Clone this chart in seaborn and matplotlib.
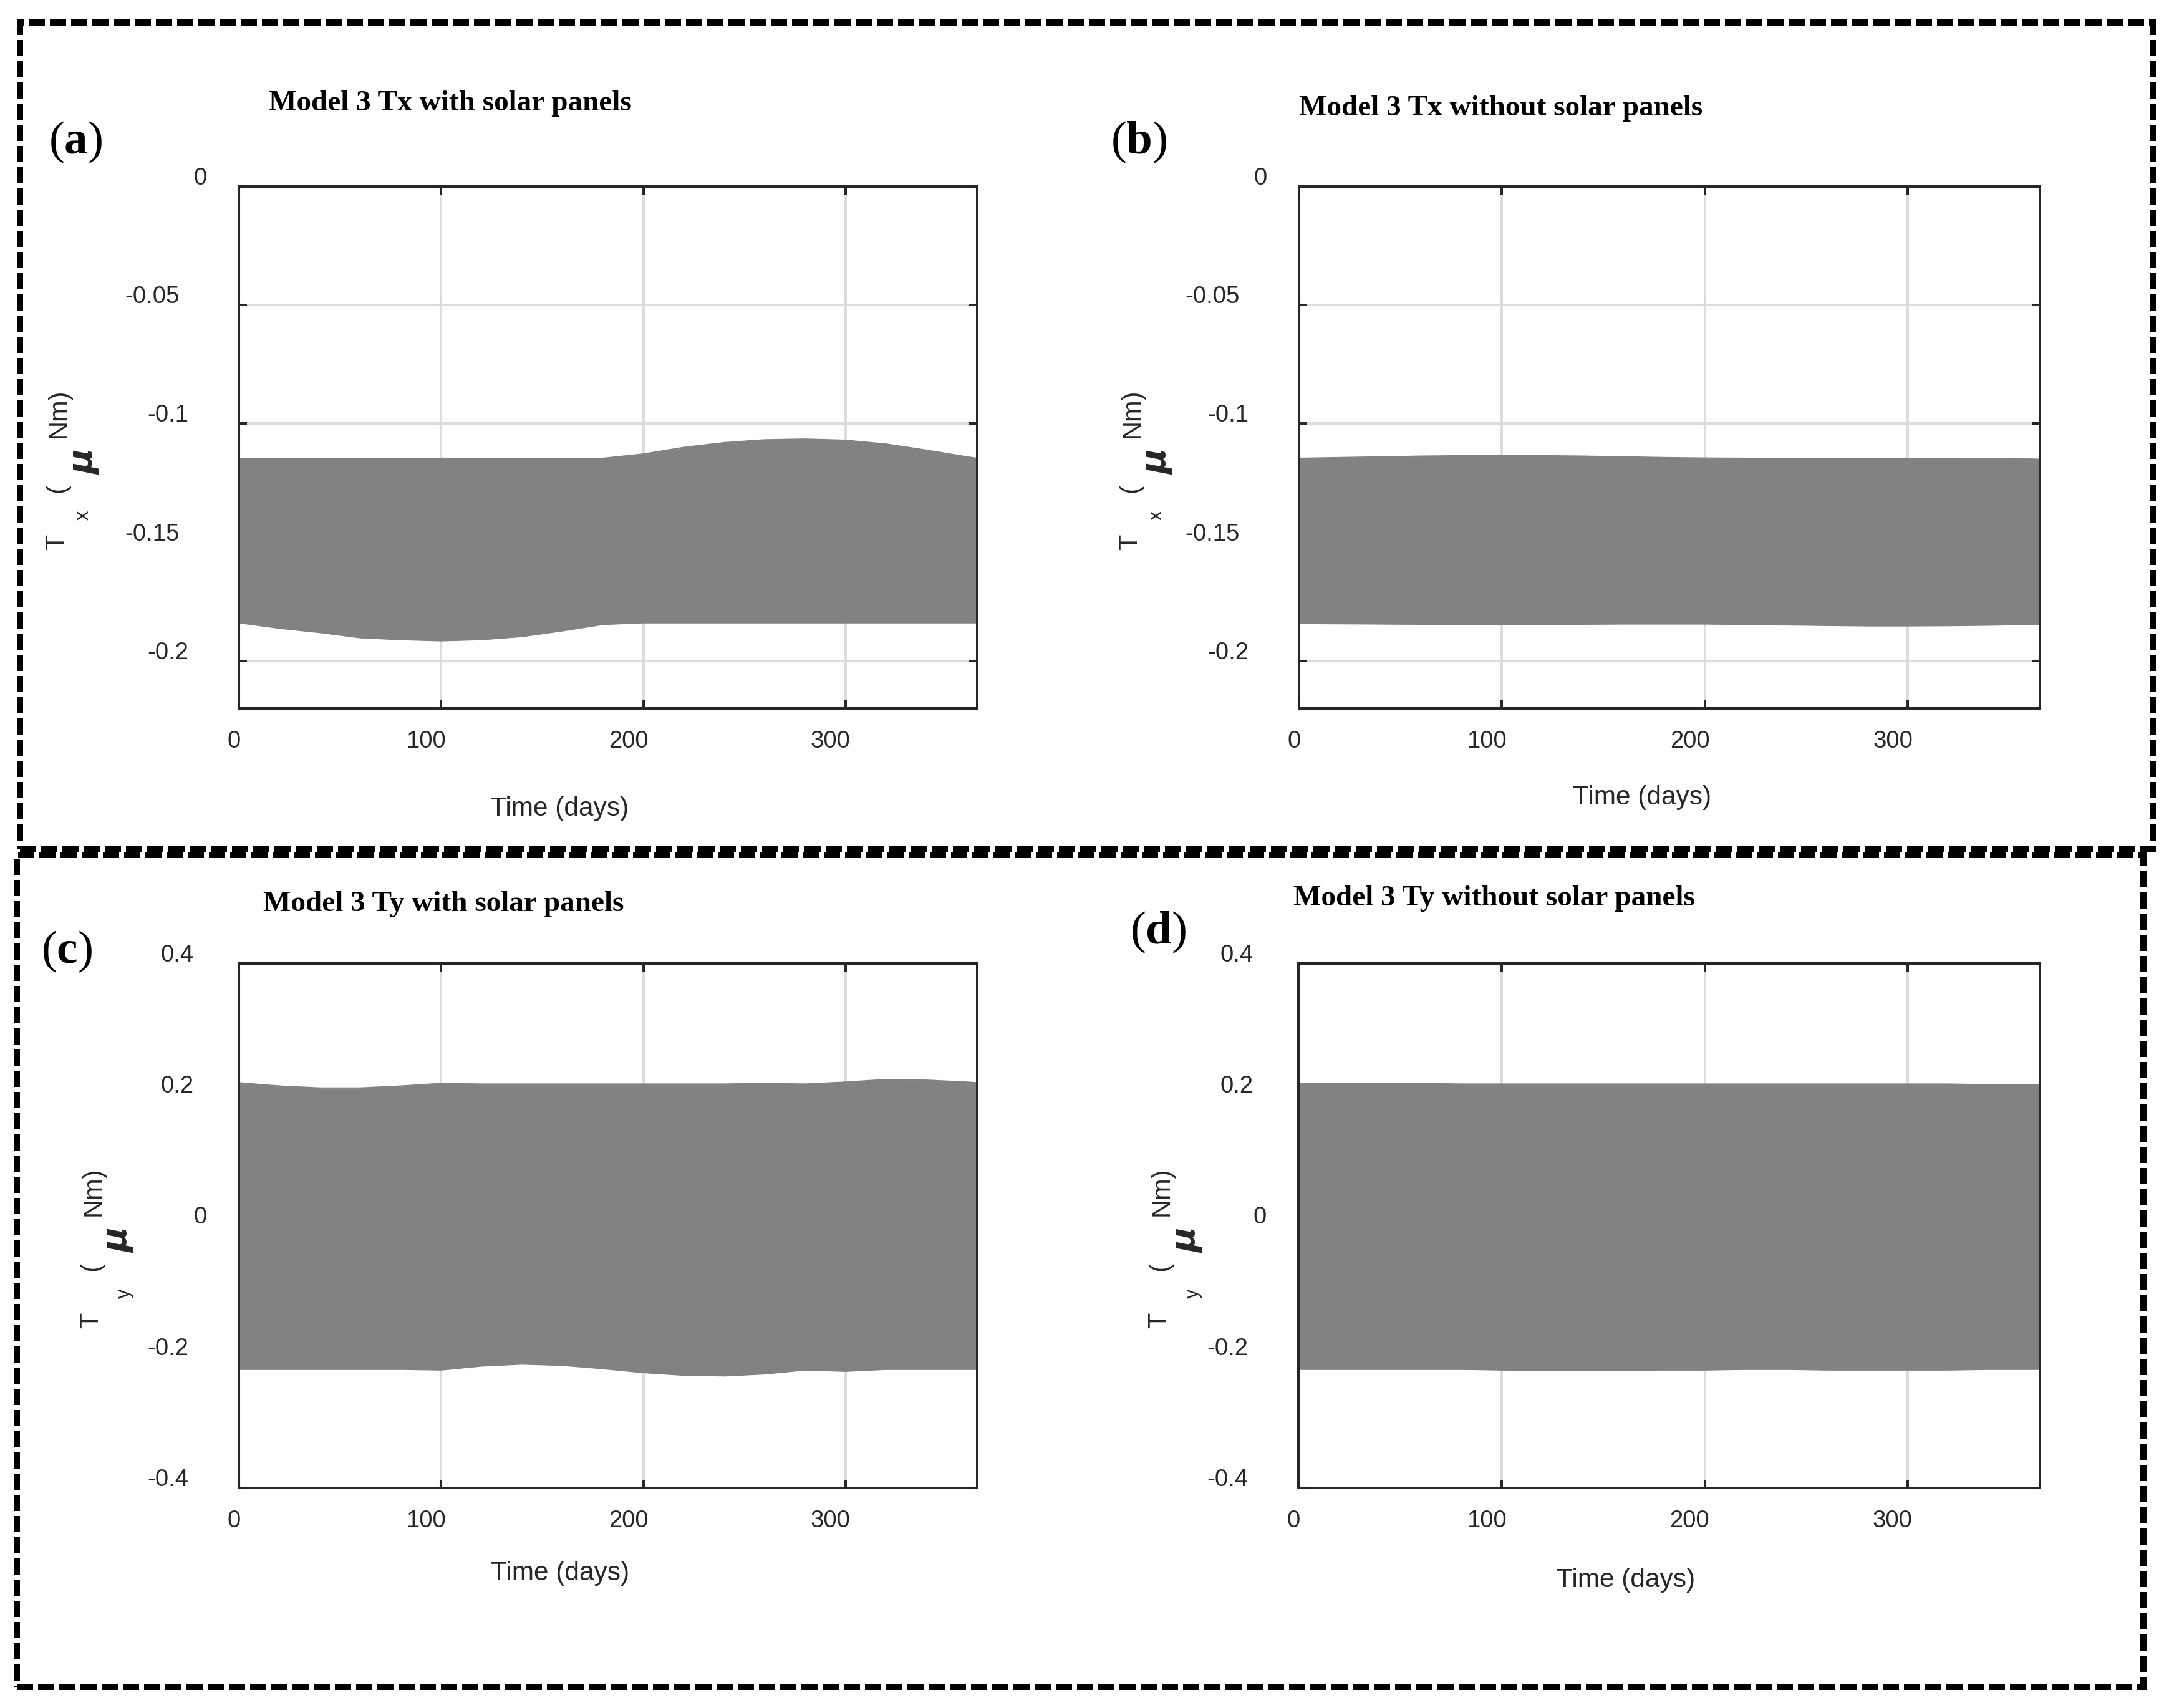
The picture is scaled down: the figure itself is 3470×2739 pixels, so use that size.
import matplotlib
matplotlib.use('Agg')
import matplotlib.pyplot as plt
import matplotlib.transforms as mtransforms
from matplotlib.patches import Rectangle
import seaborn as sns

W_PX, H_PX, DPI = 3470, 2739, 100
GRAY, GRID, DARK = '#828282', '#dcdcdc', '#262626'

# sample days of the envelope (the torque oscillates far too fast to resolve,
# so only the upper / lower envelope of the band is read off the figure)
DAYS = [0, 20, 40, 60, 80, 100, 120, 140, 160, 180, 200, 220, 240, 260, 280,
        300, 320, 340, 360, 365]

TX_SOLAR_UP = [-0.1146, -0.1146, -0.1146, -0.1146, -0.1146, -0.1146, -0.1146,
               -0.1146, -0.1146, -0.1146, -0.1128, -0.1100, -0.1080, -0.1068,
               -0.1065, -0.1070, -0.1086, -0.1112, -0.1140, -0.1146]
TX_SOLAR_LO = [-0.1839, -0.1862, -0.1880, -0.1902, -0.1910, -0.1915, -0.1910,
               -0.1897, -0.1873, -0.1846, -0.1839, -0.1839, -0.1839, -0.1839,
               -0.1839, -0.1839, -0.1839, -0.1839, -0.1839, -0.1839]
TX_NOSOLAR_UP = [-0.1146, -0.1143, -0.1140, -0.1137, -0.1135, -0.1134, -0.1135,
                 -0.1137, -0.1140, -0.1143, -0.1145, -0.1146, -0.1146, -0.1146,
                 -0.1146, -0.1146, -0.1147, -0.1148, -0.1149, -0.1150]
TX_NOSOLAR_LO = [-0.1842, -0.1843, -0.1844, -0.1845, -0.1846, -0.1846, -0.1846,
                 -0.1845, -0.1844, -0.1844, -0.1844, -0.1846, -0.1848, -0.1850,
                 -0.1852, -0.1852, -0.1851, -0.1849, -0.1846, -0.1845]
TY_SOLAR_UP = [0.218, 0.213, 0.210, 0.210, 0.213, 0.217, 0.216, 0.216, 0.216,
               0.216, 0.216, 0.216, 0.216, 0.217, 0.216, 0.219, 0.223, 0.222,
               0.219, 0.218]
TY_SOLAR_LO = [-0.219, -0.219, -0.219, -0.219, -0.219, -0.220, -0.214, -0.211,
               -0.213, -0.218, -0.224, -0.228, -0.229, -0.226, -0.220, -0.222,
               -0.219, -0.219, -0.219, -0.219]
TY_NOSOLAR_UP = [0.217, 0.217, 0.217, 0.217, 0.216, 0.216, 0.216, 0.216, 0.216,
                 0.216, 0.216, 0.216, 0.216, 0.216, 0.216, 0.216, 0.216, 0.215,
                 0.215, 0.215]
TY_NOSOLAR_LO = [-0.219, -0.219, -0.219, -0.219, -0.219, -0.220, -0.221, -0.221,
                 -0.221, -0.220, -0.220, -0.219, -0.219, -0.220, -0.220, -0.220,
                 -0.220, -0.219, -0.219, -0.219]

X_TICKS = [0, 100, 200, 300]
TX_TICKS = [-0.2, -0.15, -0.1, -0.05, 0]
TX_TICKLABELS = ['-0.2', '-0.15', '-0.1', '-0.05', '0']
TY_TICKS = [-0.4, -0.2, 0, 0.2, 0.4]
TY_TICKLABELS = ['-0.4', '-0.2', '0', '0.2', '0.4']

TITLES = ['Model 3 Tx with solar panels', 'Model 3 Tx without solar panels',
          'Model 3 Ty with solar panels', 'Model 3 Ty without solar panels']
LETTERS = ['a', 'b', 'c', 'd']

sns.set_theme(style='ticks')
plt.rcParams.update({
    'font.family': ['Liberation Sans', 'DejaVu Sans'],
    'mathtext.fontset': 'custom',
    'mathtext.rm': 'Liberation Serif',
    'mathtext.bf': 'Liberation Serif:bold',
    'axes.edgecolor': DARK, 'axes.linewidth': 2.9,
    'xtick.color': DARK, 'ytick.color': DARK,
    'text.color': DARK,
})

# layout, in pixels of the final image (x from left, y from top)
PANELS = [
    dict(up=TX_SOLAR_UP, lo=TX_SOLAR_LO, box=(383, 299, 1567, 1136), ylim=(-0.22, 0),
         ticks=TX_TICKS, labels=TX_TICKLABELS, sub='x', mu_dx=-249,
         title=(431, 177), letter=(78, 228), xlab=(897, 1297)),
    dict(up=TX_NOSOLAR_UP, lo=TX_NOSOLAR_LO, box=(2083, 299, 3271, 1136), ylim=(-0.22, 0),
         ticks=TX_TICKS, labels=TX_TICKLABELS, sub='x', mu_dx=-228,
         title=(2083, 185), letter=(1781, 228), xlab=(2633, 1279)),
    dict(up=TY_SOLAR_UP, lo=TY_SOLAR_LO, box=(383, 1545, 1567, 2386), ylim=(-0.4, 0.4),
         ticks=TY_TICKS, labels=TY_TICKLABELS, sub='y', mu_dx=-194,
         title=(422, 1461), letter=(66, 1526), xlab=(898, 2523)),
    dict(up=TY_NOSOLAR_UP, lo=TY_NOSOLAR_LO, box=(2082, 1545, 3271, 2386), ylim=(-0.4, 0.4),
         ticks=TY_TICKS, labels=TY_TICKLABELS, sub='y', mu_dx=-180,
         title=(2074, 1452), letter=(1812, 1495), xlab=(2607, 2534)),
]


def fx(x):
    return x / W_PX


def fy(y):
    return 1 - y / H_PX


fig = plt.figure(figsize=(W_PX / DPI, H_PX / DPI), dpi=DPI)
axes = []
for p, title, letter in zip(PANELS, TITLES, LETTERS):
    x0, y0, x1, y1 = p['box']
    ax = fig.add_axes([fx(x0), fy(y1), (x1 - x0) / W_PX, (y1 - y0) / H_PX])
    ax.fill_between(DAYS, p['lo'], p['up'], color=GRAY, lw=0, zorder=2)
    sns.lineplot(x=DAYS, y=p['up'], ax=ax, color=GRAY, lw=1.5, zorder=2)
    sns.lineplot(x=DAYS, y=p['lo'], ax=ax, color=GRAY, lw=1.5, zorder=2)
    ax.set_xlim(0, 365)
    ax.set_ylim(*p['ylim'])
    ax.set_xticks(X_TICKS)
    ax.set_xticklabels([str(t) for t in X_TICKS])
    ax.set_yticks(p['ticks'])
    ax.set_yticklabels(p['labels'])
    ax.set_xlabel('')
    ax.set_ylabel('')
    ax.grid(True, color=GRID, lw=2.9)
    ax.set_axisbelow(True)
    ax.tick_params(direction='in', length=9.4, width=2.9, top=True, right=True,
                   labelsize=27.5, labelcolor=DARK)
    ax.tick_params(axis='x', pad=25)
    ax.tick_params(axis='y', pad=27)
    for s in ax.spines.values():
        s.set_zorder(5)

    # y label pieces, laid out like the exported original
    def piece(dx, yf, s, **kw):
        tr = ax.transAxes + mtransforms.ScaledTranslation(
            (p['mu_dx'] + dx) / DPI, 0, fig.dpi_scale_trans)
        ax.text(0, yf, s, transform=tr, rotation=90, ha='center', va='center',
                clip_on=False, **kw)
    piece(-43, 0.319, 'T', fontsize=30)
    piece(11 if p['sub'] == 'y' else 0, 0.370, p['sub'], fontsize=22)
    piece(-42, 0.422, '(', fontsize=30)
    piece(0, 0.473, 'μ', fontsize=40, family='DejaVu Sans', style='italic',
          weight='bold')
    piece(-39, 0.565, 'Nm)', fontsize=30)

    fig.text(fx(p['xlab'][0]), fy(p['xlab'][1]), 'Time (days)', fontsize=30.5,
             ha='center', va='center')
    fig.text(fx(p['title'][0]), fy(p['title'][1]), title, fontsize=34,
             family='Liberation Serif', weight='bold', color='black',
             ha='left', va='baseline')
    fig.text(fx(p['letter'][0]), fy(p['letter'][1]),
             r'$\mathrm{(}\mathbf{' + letter + r'}\mathrm{)}$', fontsize=54,
             color='black', ha='left', va='center')
    axes.append(ax)

# dashed frames round the two rows
for (x0, y0, x1, y1) in [(32, 36, 3452, 1362), (27, 1371, 3437, 2705)]:
    fig.add_artist(Rectangle((fx(x0), fy(y1)), (x1 - x0) / W_PX, (y1 - y0) / H_PX,
                             transform=fig.transFigure, fill=False, ec='black',
                             lw=7.2, ls=(0, (2.6, 0.8))))

# the original tick labels sit shifted by a fraction of their own width
fig.canvas.draw()
for ax in axes:
    for lab in ax.get_yticklabels():
        w = lab.get_window_extent().width
        lab.set_transform(lab.get_transform() + mtransforms.ScaledTranslation(
            -0.66 * w / DPI, 17 / DPI, fig.dpi_scale_trans))
    for lab in ax.get_xticklabels():
        w = lab.get_window_extent().width
        lab.set_transform(lab.get_transform() + mtransforms.ScaledTranslation(
            -0.38 * w / DPI, 0, fig.dpi_scale_trans))

fig.savefig('out.png', dpi=DPI)
